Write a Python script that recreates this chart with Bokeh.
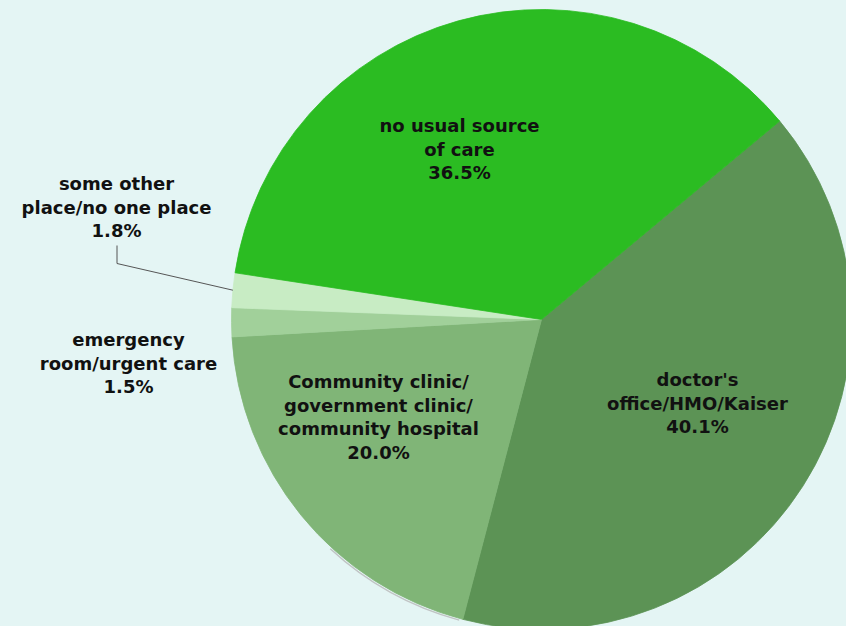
import math
from bokeh.plotting import figure
from bokeh.models import Range1d
from bokeh.core.properties import value
from bokeh.embed import file_html
from bokeh.resources import INLINE

# ---- data ----
categories = ["doctor's\noffice/HMO/Kaiser",
              "Community clinic/\ngovernment clinic/\ncommunity hospital",
              "emergency\nroom/urgent care",
              "some other\nplace/no one place",
              "no usual source\nof care"]
values = [40.1, 20.0, 1.5, 1.8, 36.5]
colors = ["#5c9355", "#80b577", "#a1d09a", "#c8ecc4", "#2bbc22"]

# ---- layout (screen pixel coordinates) ----
W, H = 846, 626
BG = "#e4f5f4"
cx, cy, R = 541, 319, 310
start_deg = 39.8
label_pos = [(697, 379), (378, 381), (128, 339), (116, 183), (459, 125)]
line_gap = 23.5
FONT = "DejaVu Sans"

p = figure(width=W, height=H, output_backend="svg", toolbar_location=None,
           x_range=Range1d(0, W), y_range=Range1d(-H, 0),
           min_border=0, background_fill_color=BG, border_fill_color=BG)
p.axis.visible = False
p.grid.visible = False
p.outline_line_color = None

total = sum(values)
a = start_deg
mids = []
bounds = []
for v, c in zip(values, colors):
    span = v / total * 360.0
    s, e = a - span, a
    bounds.append((s, e))
    mids.append((s + e) / 2)
    a = s

# faint shadow at lower-left rim
p.arc(x=[cx - 1], y=[-cy - 1.5], radius=R, start_angle=math.radians(bounds[0][0] - 28),
      end_angle=math.radians(bounds[0][0] - 0.5), direction="anticlock",
      line_color="#c0c4c4", line_width=1.5)

for (s, e), c in zip(bounds, colors):
    p.wedge(x=[cx], y=[-cy], radius=R, start_angle=math.radians(s), end_angle=math.radians(e),
            fill_color=c, line_color=c, line_width=0.8)

# leader line for "some other" slice
m = math.radians(mids[3])
ex, ey = cx + R * math.cos(m), -cy + R * math.sin(m)
p.line(x=[label_pos[3][0] + 0.5, label_pos[3][0] + 0.5, ex],
       y=[-245, -263, ey], line_color="#555555", line_width=1)

for cat, v, (lx, ly) in zip(categories, values, label_pos):
    lines = cat.split("\n") + [f"{v:.1f}%"]
    for i, t in enumerate(lines):
        p.text(x=[lx], y=[-(ly + i * line_gap)], text=[t], text_align="center",
               text_baseline="middle", text_font=value(FONT), text_font_style="bold",
               text_font_size="18px", text_color="#111111")

html = file_html(p, INLINE)
html = html.replace("<head>", "<head><style>html,body{background:%s;}</style>" % BG, 1)
open("out.html", "w").write(html)
